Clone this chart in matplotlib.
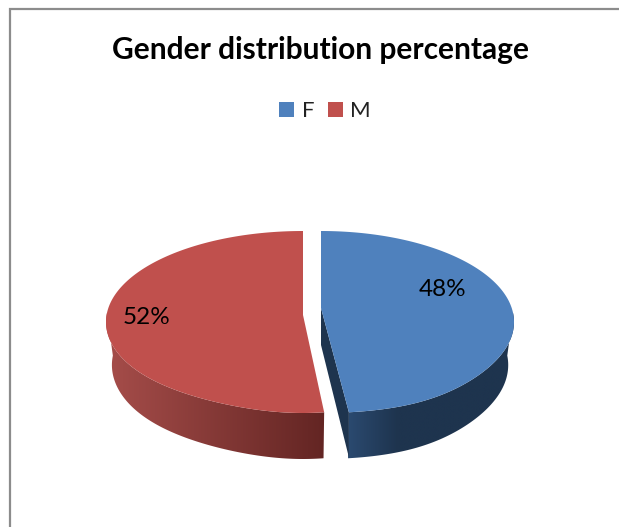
import numpy as np
import matplotlib
matplotlib.use("Agg")
import matplotlib.pyplot as plt
from matplotlib.colors import LinearSegmentedColormap
from matplotlib.patches import Polygon

# data
categories = ["F", "M"]
shares = [48, 52]
labels = ["48%", "52%"]
top_colors = ["#4F81BD", "#C0504D"]
wall_left = ["#2B4A70", "#A64D4A"]
wall_right = ["#1E344E", "#632523"]

plt.rcParams["font.family"] = ["Lato", "DejaVu Sans"]

fig = plt.figure(figsize=(6.19, 5.27), dpi=100)
ax = fig.add_axes([0, 0, 1, 1])

# outer chart frame
ax.plot([10, 10, 619], [527, 9, 9], color="#8C8C8C", lw=1.6, solid_joinstyle="miter")

# slice geometry
cx_list = [321, 303]
rx_list = [193, 197]
skew = [0.16, -0.15]
apex_y = [308, 315]
cy_top, ry_top = 322, 91
cy_bot, ry_bot = 365, 94
rx_shrink = 0.97

fr = np.array(shares) / sum(shares) * 2 * np.pi
starts = [0, fr[0]]
ends = [fr[0], 2 * np.pi]


def rim(i, th, bottom=False):
    # the skew only acts close to the front of the pie
    s = np.sin(th) * (1 + skew[i] * np.clip(-np.cos(th), 0, 1) ** 6)
    if bottom:
        return cx_list[i] + rx_list[i] * rx_shrink * s, cy_bot - ry_bot * np.cos(th)
    return cx_list[i] + rx_list[i] * s, cy_top - ry_top * np.cos(th)


# side walls, gradient image clipped to the front rim band
for i in range(2):
    a0 = max(starts[i], np.pi / 2 - 0.1) if i == 0 else starts[i]
    a1 = min(ends[i], 3 * np.pi / 2 + 0.1)
    th = np.linspace(a0, a1, 200)
    xs, ys = rim(i, th)
    xb, yb = rim(i, th, True)
    poly = Polygon(np.c_[np.r_[xs, xb[::-1]], np.r_[ys, yb[::-1]]], transform=ax.transData)
    lo, hi = min(xs.min(), xb.min()), max(xs.max(), xb.max())
    if i == 0:
        # blue wall is only light near the cut
        cmap = LinearSegmentedColormap.from_list("w", [(0, wall_left[i]), (0.3, wall_right[i]), (1, wall_right[i])])
    else:
        cmap = LinearSegmentedColormap.from_list("w", [wall_left[i], wall_right[i]])
    im = ax.imshow(np.linspace(0, 1, 256).reshape(1, -1), cmap=cmap, aspect="auto",
                   extent=(lo, hi, 470, 300), zorder=2, interpolation="bilinear")
    im.set_clip_path(poly)

# cut face of the blue slice
xe, ye = rim(0, ends[0])
ax.fill([cx_list[0], xe, xe, cx_list[0]],
        [apex_y[0], ye, ye + 45, apex_y[0] + 37],
        color=wall_right[0], lw=0, zorder=3)

# top faces
handles = []
for i in range(2):
    th = np.linspace(starts[i], ends[i], 200)
    xs, ys = rim(i, th)
    h = ax.fill(np.r_[cx_list[i], xs], np.r_[apex_y[i], ys],
                color=top_colors[i], lw=0, zorder=4, label=categories[i])
    handles.append(h[0])

ax.text(443, 289, labels[0], fontsize=17.5, ha="center", va="center", color="black", zorder=5)
ax.text(147, 317, labels[1], fontsize=17.5, ha="center", va="center", color="black", zorder=5)

ax.text(320, 50, "Gender distribution percentage", fontsize=21.5, fontweight="bold",
        ha="center", va="center", color="black")

ax.set_xlim(0, 619)
ax.set_ylim(527, 0)
ax.axis("off")

ax.legend(handles=handles, ncol=2, loc="center", bbox_to_anchor=(325, 111),
          bbox_transform=ax.transData, frameon=False, fontsize=16,
          handlelength=0.68, handleheight=0.68, handletextpad=0.35,
          columnspacing=0.6, borderpad=0, labelcolor="#222222")

fig.savefig("out.png", dpi=100)
